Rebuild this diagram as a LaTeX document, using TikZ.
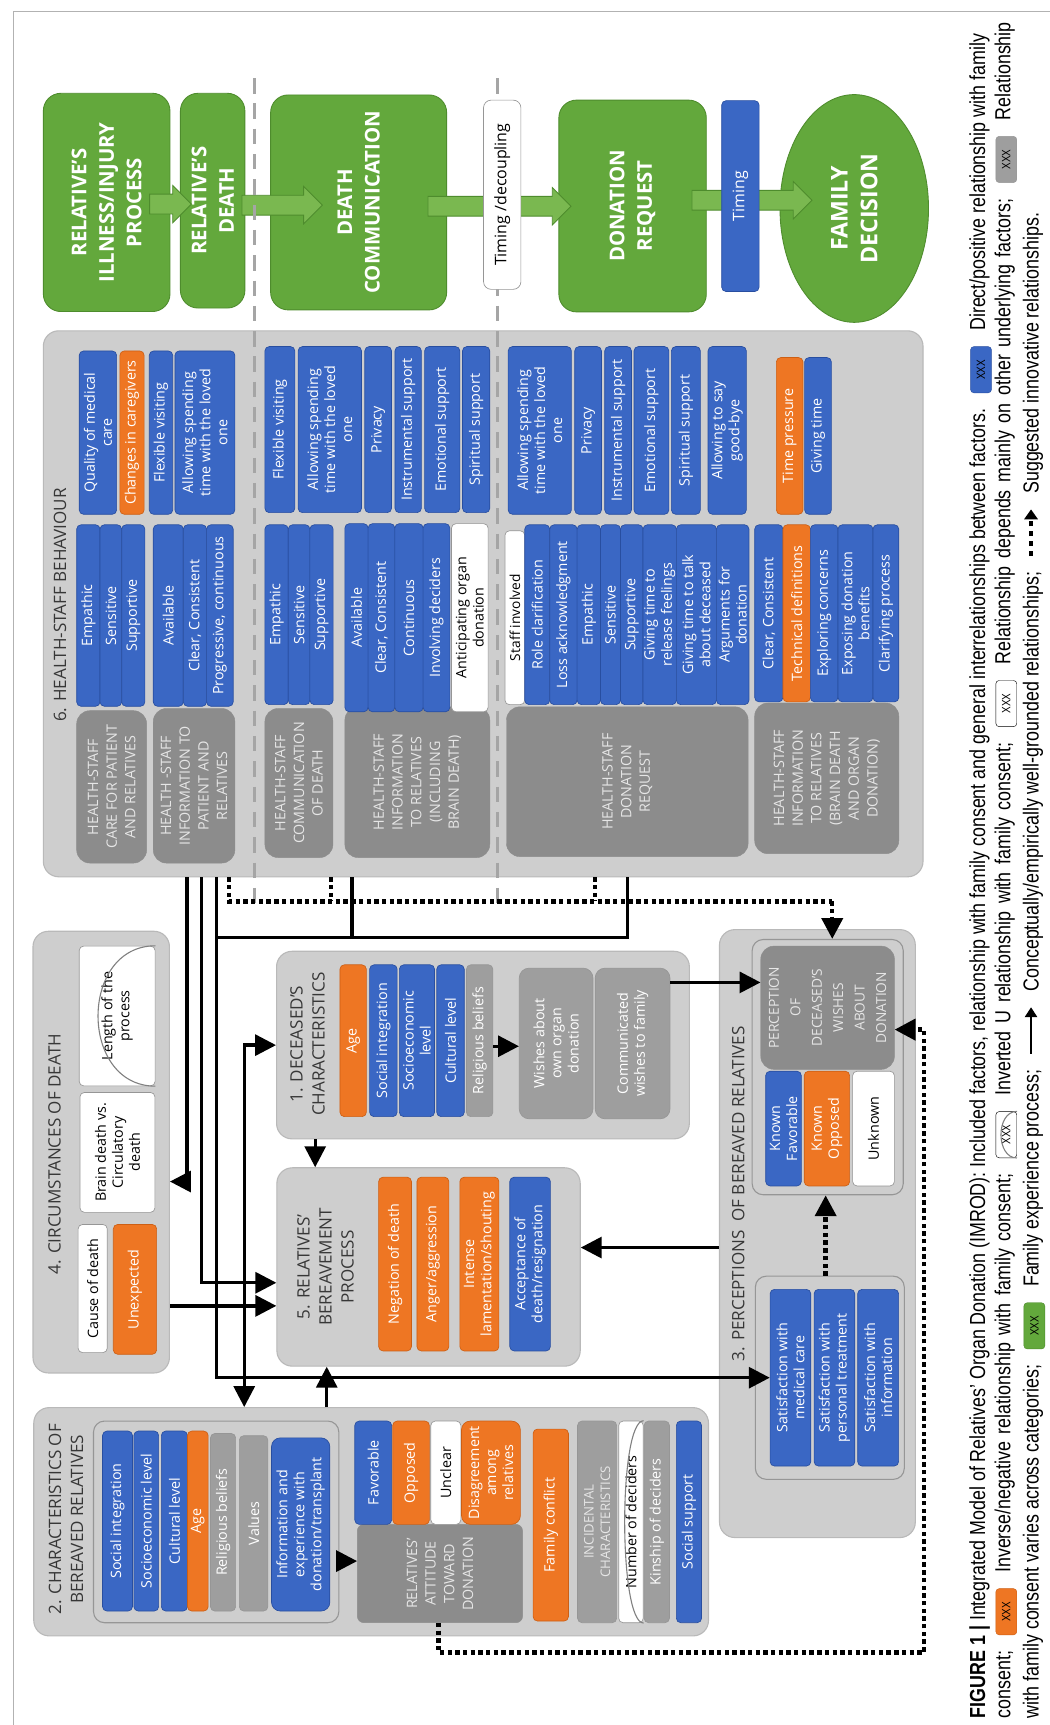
\documentclass[tikz,border=0pt]{standalone}
\usepackage{fontspec}
\setmainfont{Open Sans}
\newfontfamily\capfont[FakeStretch=0.82]{Liberation Sans}
\usetikzlibrary{arrows.meta,shapes.geometric}

\definecolor{famgreen}{RGB}{99,168,60}
\definecolor{famgreenD}{RGB}{78,140,45}
\definecolor{arrgreen}{RGB}{122,184,80}
\definecolor{barblue}{RGB}{58,103,196}
\definecolor{barblueD}{RGB}{40,78,160}
\definecolor{barorange}{RGB}{238,118,35}
\definecolor{barorangeD}{RGB}{205,95,20}
\definecolor{bargray}{RGB}{158,158,158}
\definecolor{labgray}{RGB}{140,140,140}
\definecolor{labtext}{RGB}{230,230,230}
\definecolor{panelgray}{RGB}{206,206,206}
\definecolor{panelline}{RGB}{185,185,185}
\definecolor{subline}{RGB}{150,150,150}
\definecolor{divgray}{RGB}{165,165,165}
\definecolor{ttlgray}{RGB}{55,55,55}

\begin{document}
\begin{tikzpicture}
[x=1pt,y=-1pt,>={Triangle[length=19pt,width=19pt]},
every node/.style={inner sep=1pt,align=center},
greenbox/.style={fill=famgreen,draw=famgreenD,line width=0.8pt,rounded corners=16pt,text=white,font=\fontsize{18.5}{25}\selectfont\bfseries},
garr/.style={fill=arrgreen,draw=famgreenD,line width=0.8pt},
bluebar/.style={fill=barblue,draw=barblueD,line width=0.6pt,rounded corners=4pt,text=white,font=\fontsize{13}{15.5}\selectfont},
orangebar/.style={bluebar,fill=barorange,draw=barorangeD},
graybar/.style={bluebar,fill=bargray,draw=subline},
whitebox/.style={bluebar,fill=white,draw=subline,text=black},
labelbox/.style={fill=labgray,draw=labgray,rounded corners=12pt,text=labtext,font=\fontsize{13}{17}\selectfont},
panel/.style={fill=panelgray,draw=panelline,line width=1pt,rounded corners=14pt,inner sep=0pt},
subpanel/.style={panel,draw=subline,rounded corners=10pt},
ttl/.style={rotate=90,text=ttlgray,font=\fontsize{15.5}{20}\selectfont},
solidrel/.style={line width=3pt},
innovrel/.style={line width=4pt,dash pattern=on 4pt off 3pt},
divline/.style={divgray,line width=2.5pt,dash pattern=on 14pt off 9pt},
curveline/.style={draw=gray,line width=1pt},
captxt/.style={rotate=90,anchor=base west,inner sep=2.5pt,inner xsep=14pt,font=\capfont\fontsize{19.8}{22}\selectfont},
capline2/.style={captxt,execute at begin node={\spaceskip=7pt plus 1pt\relax}},
legbox/.style={captxt,inner xsep=1pt,rounded corners=3pt,minimum width=42pt,minimum height=19pt,font=\capfont\fontsize{11}{11}\selectfont},
]

%Box from its corners, text turned upwards
\def\bx#1#2#3#4#5#6#7{\node[#2,rotate=90,minimum width={(#6-#5)*1pt},minimum height={(#4-#3)*1pt}] (#1) at ({(#3+#4)/2},{(#5+#6)/2}) {#7};}
%Panel from its corners
\def\pn#1#2#3#4#5#6{\node[#2,minimum width={(#4-#3)*1pt},minimum height={(#6-#5)*1pt}] (#1) at ({(#3+#4)/2},{(#5+#6)/2}) {};}
%Green block arrow
\def\garrow#1#2#3{\draw[garr] (#1,#3-9) -- (#2-17,#3-9) -- (#2-17,#3-17) -- (#2,#3) -- (#2-17,#3+17) -- (#2-17,#3+9) -- (#1,#3+9) -- cycle;}

\useasboundingbox (0,0) rectangle (954,1568);
\fill[white] (0,0) rectangle (954,1568);
%Page rule
\draw[gray!60,line width=0.8pt] (12,1568) -- (12,10) -- (954,10);

%Family experience process
\bx{ill}{greenbox}{39.4}{154.5}{84.8}{283.2}{RELATIVE’S\\ILLNESS/INJURY\\PROCESS}
\bx{dth}{greenbox}{164}{222.6}{84.8}{280}{RELATIVE’S\\DEATH}
\bx{com}{greenbox}{246}{406}{86.3}{281.7}{DEATH\\COMMUNICATION}
\bx{req}{greenbox}{508}{642}{91}{283.5}{DONATION\\REQUEST}
\bx{fam}{greenbox,ellipse,font=\fontsize{21}{27}\selectfont\bfseries}{709}{844}{86}{293}{FAMILY\\DECISION}

\garrow{136}{174}{185.5}
\garrow{220}{293}{186.5}
\garrow{389}{519}{187.5}
\garrow{629}{738}{182}

%Panels
\pn{hsb}{panel}{39.4}{839}{300.7}{797}
\pn{cir}{panel}{30}{154}{846.5}{1248}
\pn{dcs}{panel}{251.4}{626.6}{864.7}{1035.2}
\pn{ber}{panel}{251.7}{527.4}{1061.5}{1241.8}
\pn{per}{panel}{654}{832}{845}{1397.6}
\pn{chr}{panel}{30.7}{644}{1279.5}{1487}

%Dividers between phases
\draw[divline] (231,71) -- (231,830);
\draw[divline] (452.5,71) -- (452.5,830);

\bx{dcp}{whitebox,rounded corners=7pt,font=\fontsize{14.5}{17}\selectfont}{439.5}{473.5}{91}{263}{Timing /decoupling}
\bx{tmg}{bluebar,font=\fontsize{14.5}{17}\selectfont}{656}{690}{91.5}{265}{Timing}

%6. Health-staff behaviour
\node[ttl] (hsbt) at (54.5,550) {6. HEALTH-STAFF BEHAVIOUR};
\bx{cq}{bluebar}{72}{106}{319}{467.5}{Quality of medical\\care}
\bx{cc}{orangebar}{109}{131}{319}{467.5}{Changes in caregivers}
\bx{cf}{bluebar}{135.7}{157}{319}{467.5}{Flexible visiting}
\bx{ca}{bluebar}{159}{213.5}{319}{467.5}{Allowing spending\\time with the loved\\one}
\bx{cl}{labelbox}{69.7}{133.3}{646}{784.5}{HEALTH-STAFF\\CARE FOR PATIENT\\AND RELATIVES}
\bx{il}{labelbox}{139.3}{213.5}{644}{784.5}{HEALTH -STAFF\\INFORMATION TO\\PATIENT AND\\RELATIVES}
\bx{ce}{bluebar}{69.7}{90.9}{477}{642}{Empathic}
\bx{cs}{bluebar}{90.9}{110.6}{477}{642}{Sensitive}
\bx{cu}{bluebar}{110.6}{131.7}{477}{642}{Supportive}
\bx{ia}{bluebar}{139.3}{166.6}{477}{642}{Available}
\bx{ic}{bluebar}{166.6}{187.8}{477}{642}{Clear, Consistent}
\bx{ip}{bluebar}{187.8}{212}{477}{642}{Progressive, continuous}

\bx{mf}{bluebar}{240.8}{268}{315}{466}{Flexible visiting}
\bx{ma}{bluebar}{271}{328.6}{315}{466}{Allowing spending\\time with the loved\\one}
\bx{mp}{bluebar}{331.6}{355.9}{315}{466}{Privacy}
\bx{mi}{bluebar}{359}{383}{315}{466}{Instrumental support}
\bx{mo}{bluebar}{386}{418}{315}{466}{Emotional support}
\bx{ms}{bluebar}{420.4}{445.2}{315}{466}{Spiritual support}
\bx{ml}{labelbox}{240.8}{302.6}{644}{779.5}{HEALTH-STAFF\\COMMUNICATION\\OF DEATH}
\bx{nl}{labelbox}{313.5}{445.2}{642.5}{779.5}{HEALTH-STAFF\\INFORMATION\\TO RELATIVES\\(INCLUDING\\BRAIN DEATH)}
\bx{me}{bluebar}{240.8}{262}{477}{640.5}{Empathic}
\bx{mn}{bluebar}{262}{281.7}{477}{640.5}{Sensitive}
\bx{mu}{bluebar}{281.7}{302.8}{477}{640.5}{Supportive}
\bx{na}{bluebar}{313.5}{334.6}{476}{647}{Available}
\bx{nc}{bluebar}{334.6}{358.9}{476}{647}{Clear, Consistent}
\bx{nt}{bluebar}{358.9}{384.6}{476}{647}{Continuous}
\bx{nd}{bluebar}{384.6}{408.9}{476}{647}{Involving deciders}
\bx{no}{whitebox}{410.4}{443.7}{476}{647}{Anticipating organ\\donation}

\bx{ra}{bluebar}{461.9}{519.4}{315}{467.5}{Allowing spending\\time with the loved\\one}
\bx{rp}{bluebar}{522.4}{546.7}{315}{467.5}{Privacy}
\bx{ri}{bluebar}{549.7}{574}{315}{467.5}{Instrumental support}
\bx{ro}{bluebar}{576.3}{608}{315}{467.5}{Emotional support}
\bx{rs}{bluebar}{610.3}{636.6}{315}{467.5}{Spiritual support}
\bx{rg}{bluebar}{643.6}{678.4}{315}{467.5}{Allowing to say\\good-bye}
\bx{rt}{orangebar}{705.7}{729.9}{325}{467.5}{Time pressure}
\bx{rv}{bluebar}{731.4}{755.7}{325}{467.5}{Giving time}
\bx{rlb}{labelbox}{460.4}{680}{642.5}{778.6}{HEALTH-STAFF\\DONATION\\REQUEST}
\bx{tlb}{labelbox}{686}{817}{639}{776}{HEALTH-STAFF\\INFORMATION\\TO RELATIVES\\(BRAIN DEATH\\AND ORGAN\\DONATION)}
\bx{rw}{whitebox,font=\fontsize{12.5}{15}\selectfont}{459}{477}{482.5}{640.5}{Staff involved}
\bx{rr}{bluebar}{477}{499.7}{477}{640.5}{Role clarification}
\bx{rl}{bluebar}{499.7}{524.6}{477}{640.5}{Loss acknowledgment}
\bx{re}{bluebar}{524.6}{545.8}{477}{640.5}{Empathic}
\bx{rn}{bluebar}{545.8}{564}{477}{640.5}{Sensitive}
\bx{ru}{bluebar}{564}{584.5}{477}{640.5}{Supportive}
\bx{rf}{bluebar}{584.5}{614.8}{477}{640.5}{Giving time to\\release feelings}
\bx{rk}{bluebar}{614.8}{651.2}{477}{640.5}{Giving time to talk\\about deceased}
\bx{rd}{bluebar}{651.2}{680.8}{477}{640.5}{Arguments for\\donation}
\bx{tc}{bluebar}{686}{711.7}{477}{638}{Clear, Consistent}
\bx{td}{orangebar}{711.7}{736.6}{477}{638}{Technical definitions}
\bx{tx}{bluebar}{736.6}{761.7}{477}{638}{Exploring concerns}
\bx{tb}{bluebar}{761.7}{793.5}{477}{638}{Exposing donation\\benefits}
\bx{tp}{bluebar}{793.5}{817}{477}{638}{Clarifying process}

%4. Circumstances of death
\node[ttl] (cirt) at (49.5,1049) {4. CIRCUMSTANCES OF DEATH};
\bx{len}{whitebox}{72}{141}{860}{987}{Length of the\\process}
\draw[curveline] (len.south west) .. controls (len.north west) and (len.north east) .. (len.south east);
\bx{bdv}{whitebox}{72.7}{140.8}{993}{1102}{Brain death vs.\\Circulatory\\death}
\bx{cod}{whitebox}{71}{97.5}{1113}{1229.5}{Cause of death}
\bx{unx}{orangebar}{103}{142.4}{1113}{1231}{Unexpected}

%1. Deceased's characteristics
\node[ttl] (dcst) at (279.5,949) {1. DECEASED’S\\CHARACTERISTICS};
\bx{dag}{orangebar}{309}{333}{877}{1015}{Age}
\bx{dsi}{bluebar}{336}{361}{877}{1015}{Social integration}
\bx{dse}{bluebar}{363}{395}{877}{1015}{Socioeconomic\\level}
\bx{dcl}{bluebar}{397}{422}{877}{1015}{Cultural level}
\bx{drb}{graybar}{424}{448}{877}{1015}{Religious beliefs}
\bx{dwo}{graybar,rounded corners=9pt}{472}{539}{880}{1017}{Wishes about\\own organ\\donation}
\bx{dcw}{graybar,rounded corners=9pt}{541}{609}{880}{1017}{Communicated\\wishes to family}

%5. Relatives' bereavement process
\node[ttl] (bert) at (296,1151.5) {5. RELATIVES’\\BEREAVEMENT\\PROCESS};
\bx{bng}{orangebar}{344.2}{374}{1070}{1228}{Negation of death}
\bx{bag}{orangebar}{379}{408}{1070}{1228}{Anger/aggression}
\bx{bil}{orangebar}{418}{453.5}{1070}{1228}{Intense\\lamentation/shouting}
\bx{bac}{bluebar}{463.4}{500.3}{1070}{1228}{Acceptance of\\death/resignation}

%3. Perceptions of bereaved relatives
\node[ttl] (pert) at (671,1085) {3. PERCEPTIONS\ \ OF BEREAVED RELATIVES};
\pn{kgp}{subpanel}{683.7}{821}{854}{1086}
\bx{pdw}{labelbox,font=\fontsize{12.5}{19.5}\selectfont}{691.5}{813}{860}{972}{PERCEPTION\\OF\\DECEASED’S\\WISHES\\ABOUT\\DONATION}
\bx{pkf}{bluebar}{696}{728.4}{973.7}{1078}{Known\\Favorable}
\bx{pko}{orangebar}{731}{772.3}{973.7}{1078}{Known\\Opposed}
\bx{pku}{whitebox}{775}{813}{973.7}{1078}{Unknown}
\pn{sgp}{subpanel}{686.6}{822}{1160}{1344.7}
\bx{psm}{bluebar}{700}{737}{1172}{1332.6}{Satisfaction with\\medical care}
\bx{psp}{bluebar}{740}{777}{1172}{1332.6}{Satisfaction with\\personal treatment}
\bx{psi}{bluebar}{779.6}{816.8}{1172}{1332.6}{Satisfaction with\\information}

%2. Characteristics of bereaved relatives
\node[ttl] (chrt) at (60,1381) {2. CHARACTERISTICS OF\\BEREAVED RELATIVES};
\pn{igp}{subpanel}{85}{308}{1291.7}{1475}
\bx{csi}{bluebar}{93.2}{120.4}{1300.8}{1464.4}{Social integration}
\bx{cse}{bluebar}{121.7}{144.2}{1300.8}{1464.4}{Socioeconomic level}
\bx{ccl}{bluebar}{146.7}{170.4}{1300.8}{1464.4}{Cultural level}
\bx{cag}{orangebar}{170.4}{189.2}{1300.8}{1464.4}{Age}
\bx{crb}{graybar}{191.3}{214.2}{1303}{1464.4}{Religious beliefs}
\bx{cva}{graybar}{217.6}{243.5}{1305}{1464.4}{Values}
\bx{cie}{bluebar,rounded corners=8pt}{246.8}{299.8}{1307}{1464.4}{Information and\\experience with\\donation/transplant}
\bx{aat}{labelbox,rounded corners=6pt}{324.8}{475}{1385.6}{1475}{RELATIVES’\\ATTITUDE\\TOWARD\\DONATION}
\bx{afv}{bluebar}{322.5}{356}{1291.7}{1385.6}{Favorable}
\bx{aop}{orangebar}{357}{390.3}{1291.7}{1385.6}{Opposed}
\bx{auc}{whitebox}{391.6}{418.9}{1291.7}{1385.6}{Unclear}
\bx{adg}{orangebar,rounded corners=8pt}{419.5}{473}{1291.7}{1385.6}{Disagreement\\among\\relatives}
\bx{afc}{orangebar}{484.6}{516.7}{1299}{1473.5}{Family conflict}
\bx{ain}{graybar,text=labtext,font=\fontsize{12}{15}\selectfont}{525}{560.5}{1291.7}{1475}{INCIDENTAL\\CHARACTERISTICS}
\bx{and}{whitebox}{562.4}{584.7}{1291.7}{1475}{Number of deciders}
\draw[curveline] (and.south west) .. controls (and.north west) and (and.north east) .. (and.south east);
\bx{akd}{graybar}{585.5}{608.5}{1291.7}{1475}{Kinship of deciders}
\bx{ass}{bluebar}{614.8}{637.7}{1291.7}{1475}{Social support}

%Conceptually/empirically well-grounded relationships
\coordinate (xa) at (170,1074);
\coordinate (xb) at (183,1166);
\coordinate (xu) at (150,1187);
\coordinate (xc) at (197,1254);
\coordinate (xd) at (222,950);
\coordinate (xg) at (320,852);
\coordinate (xh) at (570.6,852);
\coordinate (xj) at (197,852);
\draw[solidrel,->] (hsb.south -| xa) |- (cir.east |- xa);
\draw[solidrel,->] (hsb.south -| xb) |- (ber.west |- xb);
\draw[solidrel,->] (cir.east |- xu) -- (ber.west |- xu);
\draw[solidrel,->] (hsb.south -| xc) |- (psm.north);
\draw[solidrel] (hsb.south -| xh) -- (xh) -- (xj);
\draw[solidrel] (hsb.south -| xg) -- (xg);
\draw[solidrel,<->] (dcs.west |- xd) -| (chr.north -| xd);
\coordinate (xdb) at (286.5,0);
\coordinate (xcb) at (297,0);
\coordinate (xpb) at (0,1134);
\coordinate (xcp) at (0,893);
\coordinate (xrw) at (0,951);
\coordinate (xia) at (0,1419);
\draw[solidrel,->] (dcs.south -| xdb) -- (ber.north -| xdb);
\draw[solidrel,->] (chr.north -| xcb) -- (ber.south -| xcb);
\draw[solidrel,->] (per.west |- xpb) -- (ber.east |- xpb);
\draw[solidrel,->] (dcw.south |- xcp) -- (pdw.north |- xcp);
\draw[solidrel,->] (drb.south |- xrw) -- (dwo.north |- xrw);
\draw[solidrel,->] (igp.east |- xia) -- (aat.north |- xia);

%Suggested innovative relationships
\coordinate (ya) at (208,819.3);
\coordinate (yb) at (301,819.3);
\coordinate (yc) at (540.7,819.3);
\coordinate (yd) at (756.5,819.3);
\draw[innovrel] (hsb.south -| ya) -- (ya) -- (yd);
\draw[innovrel] (hsb.south -| yb) -- (yb);
\draw[innovrel] (hsb.south -| yc) -- (yc);
\draw[innovrel,->] (yd) -- (kgp.north -| yd);
\coordinate (za) at (398.6,1502);
\coordinate (zb) at (840,935.9);
\coordinate (zc) at (750.5,0);
\draw[innovrel,->] (aat.west -| za) -- (za) -| (zb) -- (pdw.south |- zb);
\draw[innovrel,->] (sgp.north -| zc) -- (kgp.south -| zc);

%Caption
\node[captxt] (cap1a) at (895.5,1576) {\textbf{FIGURE 1} \textbf{|} Integrated Model of Relatives’ Organ Donation (IMROD): Included factors, relationship with family consent and general interrelationships between factors.};
\node[legbox,fill=barblue,draw=barblueD] (cap1b) at (cap1a.base east) {XXX};
\node[captxt] (cap1c) at (cap1b.base east) {Direct/positive relationship with family};

\node[capline2] (cap2a) at (918.5,1576) {consent;};
\node[legbox,fill=barorange,draw=barorangeD] (cap2b) at (cap2a.base east) {XXX};
\node[capline2] (cap2c) at (cap2b.base east) {Inverse/negative relationship with family consent;};
\node[legbox,fill=white,draw=black] (cap2d) at (cap2c.base east) {XXX};
\draw[curveline] (cap2d.south west) .. controls (cap2d.north west) and (cap2d.north east) .. (cap2d.south east);
\node[capline2] (cap2e) at (cap2d.base east) {Inverted U relationship with family consent;};
\node[legbox,fill=white,draw=black] (cap2f) at (cap2e.base east) {XXX};
\node[capline2] (cap2g) at (cap2f.base east) {Relationship depends mainly on other underlying factors;};
\node[legbox,fill=bargray,draw=subline] (cap2h) at (cap2g.base east) {XXX};
\node[capline2] (cap2i) at (cap2h.base east) {Relationship};

\node[captxt] (cap3a) at (944,1576) {with family consent varies across categories;};
\node[legbox,fill=famgreen,draw=famgreenD] (cap3b) at (cap3a.base east) {XXX};
\node[captxt] (cap3c) at (cap3b.base east) {Family experience process;};
\node[captxt,inner xsep=0pt,minimum width=42pt] (cap3d) at (cap3c.base east) {\phantom{X}};
\draw[line width=2pt,-{Triangle[length=9pt,width=11pt]}] (cap3d.west) -- (cap3d.east);
\node[captxt] (cap3e) at (cap3d.base east) {Conceptually/empirically well-grounded relationships;};
\node[captxt,inner xsep=0pt,minimum width=42pt] (cap3f) at (cap3e.base east) {\phantom{X}};
\draw[line width=4pt,dash pattern=on 5pt off 4pt,-{Triangle[length=9pt,width=12pt]}] (cap3f.west) -- (cap3f.east);
\node[captxt] (cap3g) at (cap3f.base east) {Suggested innovative relationships.};

\end{tikzpicture}
\end{document}
